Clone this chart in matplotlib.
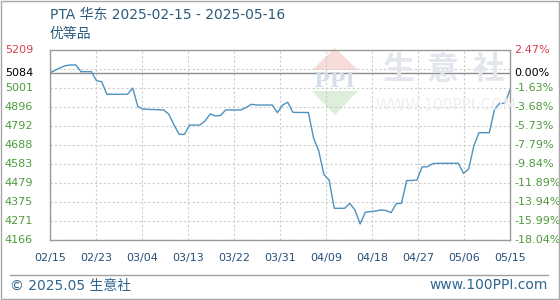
import numpy as np
import matplotlib
matplotlib.use('Agg')
import matplotlib.pyplot as plt
from matplotlib.patches import Polygon, Rectangle
from matplotlib.lines import Line2D
from matplotlib.transforms import blended_transform_factory

plt.rcParams['font.family'] = ['DejaVu Sans', 'Noto Sans CJK SC']

# days counted from 2025-02-15
days = [0, 1, 2, 3, 4, 5, 6, 7, 8, 9, 10, 11, 12, 13, 14, 15, 16, 17, 18, 19,
        20, 21, 22, 23, 24, 25, 26, 27, 28, 29, 30, 31, 32, 33, 34, 35, 36, 37, 38, 39,
        40, 41, 42, 43, 44, 45, 46, 47, 48, 49, 50, 51, 52, 53, 54, 55, 56, 57, 58, 59,
        60, 61, 62, 63, 64, 65, 66, 67, 68, 69, 70, 71, 72, 73, 74, 75, 76, 77, 78, 79,
        80, 81, 82, 83, 84, 85, 86, 87, 88, 89]
price = [5084, 5098, 5112, 5123, 5127, 5127, 5090, 5090, 5090, 5040,
         5035, 4966, 4966, 4966, 4966, 4966, 5000, 4898, 4885, 4883,
         4882, 4881, 4880, 4856, 4797, 4746, 4746, 4797, 4797, 4797,
         4820, 4858, 4847, 4850, 4880, 4880, 4880, 4880, 4895, 4911,
         4907, 4907, 4907, 4907, 4865, 4907, 4922, 4867, 4866, 4866,
         4866, 4725, 4655, 4525, 4495, 4340, 4340, 4340, 4367, 4331,
         4254, 4318, 4322, 4325, 4331, 4328, 4316, 4366, 4367, 4492,
         4493, 4495, 4567, 4568, 4585, 4587, 4587, 4587, 4587, 4587,
         4532, 4555, 4682, 4755, 4755, 4755, 4883, 4916, 4916, 4990]

base_price = 5084
y_min, y_max = 4166, 5209
left_labels = ['4166', '4271', '4375', '4479', '4583', '4688', '4792', '4896', '5001', '5084', '5209']
right_labels = ['-18.04%', '-15.99%', '-13.94%', '-11.89%', '-9.84%', '-7.79%', '-5.73%',
                '-3.68%', '-1.63%', '0.00%', '2.47%']
x_labels = ['02/15', '02/23', '03/04', '03/13', '03/22', '03/31', '04/09', '04/18',
            '04/27', '05/06', '05/15']

RED = '#d6404e'
GREEN = '#4e9a3e'
BLUE_TXT = '#24507a'
LINE = '#4f91bf'

W, H = 560, 300
fig = plt.figure(figsize=(W / 100, H / 100), dpi=100)


def fx(px):
    return px / W


def fy(py):
    return 1 - py / H


# outer frame
fig.add_artist(Rectangle((0.001, 0.002), 0.997, 0.995, transform=fig.transFigure,
                         fill=False, edgecolor='#a8a8a8', linewidth=1.0))

ax = fig.add_axes([fx(50), fy(240), fx(460), 190 / H])

# watermark
fig.add_artist(Polygon([(fx(312), fy(70)), (fx(335), fy(48)), (fx(358), fy(70))],
                       closed=True, transform=fig.transFigure, facecolor='#f8dcda',
                       edgecolor='none', zorder=0))
fig.add_artist(Polygon([(fx(312), fy(91)), (fx(335), fy(115)), (fx(358), fy(91))],
                       closed=True, transform=fig.transFigure, facecolor='#dcefd9',
                       edgecolor='none', zorder=0))
fig.text(fx(335), fy(81), 'PPI', ha='center', va='center', fontsize=15, fontweight='bold',
         color='#d6deea', family='DejaVu Serif', zorder=0)
for cx, ch in zip([398, 443, 489], ['生', '意', '社']):
    fig.text(fx(cx), fy(70), ch, ha='center', va='center', fontsize=23, fontweight='bold',
             color='#e3e7ed', family=['Noto Sans CJK SC'], zorder=0)
fig.text(fx(446), fy(106), 'WWW.100PPI.COM', ha='center', va='center', fontsize=11,
         color='#eeeff2', zorder=0)

ax.set_facecolor('none')
for yv in np.linspace(y_min, y_max, 11):
    ax.axhline(yv, color='#cccccc', linewidth=0.8, linestyle=(0, (2, 2)), zorder=1)
for xv in np.linspace(0, 89, 11):
    ax.axvline(xv, color='#cccccc', linewidth=0.8, linestyle=(0, (2, 2)), zorder=1)
ax.axhline(base_price, color='#8c8c8c', linewidth=1.0, zorder=2)

ax.plot(days, price, color=LINE, linewidth=1.0, zorder=3)

ax.set_xlim(0, 89)
ax.set_ylim(y_min, y_max)
for s in ax.spines.values():
    s.set_color('#9a9a9a')
    s.set_linewidth(1.0)

ax.set_yticks([])
ax.set_xticks(np.linspace(0, 89, 11))
ax.set_xticklabels(x_labels, fontsize=8, color=BLUE_TXT)
ax.tick_params(axis='x', length=0, pad=9)

# price labels on the left, percent labels on the right
left_pos = list(np.linspace(y_min, y_max, 11))
left_pos[9] = base_price
trans = blended_transform_factory(ax.transAxes, ax.transData)
for i, (yv, lab, rlab) in enumerate(zip(left_pos, left_labels, right_labels)):
    if i == 10:
        c = RED
    elif i == 9:
        c = 'black'
    else:
        c = GREEN
    ax.text(-0.098, yv, lab, transform=trans, ha='left', va='center', fontsize=8, color=c)
    ax.text(1.01, yv, rlab, transform=trans, ha='left', va='center', fontsize=8, color=c)

fig.text(fx(50), fy(15), 'PTA 华东 2025-02-15 - 2025-05-16', ha='left', va='center',
         fontsize=10, color='#2d5b7c')
fig.text(fx(50), fy(34), '优等品', ha='left', va='center', fontsize=10, color='#2d5b7c')

fig.add_artist(Line2D([fx(10), fx(548)], [fy(275), fy(275)], transform=fig.transFigure,
                      color='#a0a0a0', linewidth=1.0))
fig.text(fx(10), fy(286), '© 2025.05 生意社', ha='left', va='center', fontsize=10,
         color='#2f6690')
fig.text(fx(548), fy(285), 'www.100PPI.com', ha='right', va='center', fontsize=10,
         color='#2f6690')

fig.savefig('out.png', dpi=100)
